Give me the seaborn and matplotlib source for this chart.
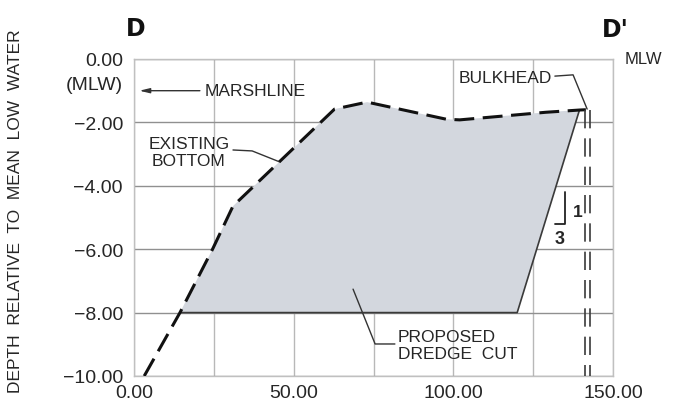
import numpy as np
import matplotlib
matplotlib.use("Agg")
import matplotlib.pyplot as plt
import seaborn as sns
import pandas as pd

# ---- data ----
existing_x = [3.2, 14.4, 24.6, 31.0, 62.8, 73.0, 97.8, 102.0, 129.0, 139.5, 141.5]
existing_y = [-10.0, -8.0, -6.0, -4.64, -1.58, -1.36, -1.90, -1.92, -1.68, -1.61, -1.60]
dredge_x = [14.4, 120.0, 139.5]
dredge_y = [-8.0, -8.0, -1.61]
bulkhead_x = [141.2, 142.8]
bulkhead_top = -1.60
bulkhead_bottom = -10.0
x_ticks = [0, 50, 100, 150]
x_tick_labels = ["0.00", "50.00", "100.00", "150.00"]
y_ticks = [0, -2, -4, -6, -8, -10]
y_tick_labels = ["0.00", "\u22122.00", "\u22124.00", "\u22126.00", "\u22128.00", "\u221210.00"]

sns.set_theme(style="white")
plt.rcParams['font.family'] = ['Liberation Sans', 'DejaVu Sans']
TXT = "#262626"

fig = plt.figure(figsize=(6.79, 4.14), dpi=100)
ax = fig.add_axes([134/679, 1-377/414, (613-134)/679, (377-60)/414])
ax.set_xlim(0, 150)
ax.set_ylim(-10, 0)

# grid
ax.set_xticks(x_ticks)
ax.set_xticks([25, 75, 125], minor=True)
ax.set_xticklabels(x_tick_labels)
ax.set_yticks(y_ticks)
ax.set_yticklabels(y_tick_labels)
ax.grid(True, axis="x", which="both", color="#b8b8b8", lw=1.0)
ax.grid(True, axis="y", which="major", color="#909090", lw=1.0)
ax.set_axisbelow(True)
for s in ax.spines.values():
    s.set_color("#c0c0c0")
    s.set_linewidth(1.0)
ax.tick_params(axis="both", which="both", length=0, labelsize=14, colors=TXT)
ax.tick_params(axis="y", pad=8)
ax.tick_params(axis="x", pad=6)

# fill polygon: existing bottom between dredge ends + dredge reversed
ex = np.array(existing_x); ey = np.array(existing_y)
mask = (ex >= dredge_x[0]) & (ex <= dredge_x[-1])
poly_x = list(ex[mask]) + dredge_x[::-1]
poly_y = list(ey[mask]) + dredge_y[::-1]
ax.fill(poly_x, poly_y, color="#d3d7de", zorder=1, lw=0)

# dredge cut lines
df_d = pd.DataFrame({"x": dredge_x, "y": dredge_y})
sns.lineplot(data=df_d, x="x", y="y", sort=False, estimator=None, ax=ax,
             color="#3a3a3a", lw=1.2, zorder=3)

# existing bottom (dashed)
df_e = pd.DataFrame({"x": existing_x, "y": existing_y})
sns.lineplot(data=df_e, x="x", y="y", sort=False, estimator=None, ax=ax,
             color="#111111", lw=2.2, zorder=4, linestyle=(0, (6.5, 2.8)))

# bulkhead (double dashed verticals)
for bx in bulkhead_x:
    dfb = pd.DataFrame({"x": [bx, bx], "y": [bulkhead_top, bulkhead_bottom]})
    sns.lineplot(data=dfb, x="x", y="y", sort=False, estimator=None, ax=ax,
                 color="#3a3a3a", lw=1.2, linestyle=(0, (11, 6)), zorder=4)

ax.set_xlabel("")
ax.set_ylabel("")

# annotations
ax.text(-3.5, -0.79, "(MLW)", ha="right", va="center", fontsize=14, color=TXT, clip_on=False)
ax.annotate("", xy=(0.8, -1.0), xytext=(21.5, -1.0),
            arrowprops=dict(arrowstyle="-|>,head_length=0.5,head_width=0.12", color="#333333", lw=1.0))
ax.text(22, -1.0, "MARSHLINE", ha="left", va="center", fontsize=12.5, color=TXT)

ax.text(17.2, -2.93, "EXISTING\nBOTTOM", ha="center", va="center", fontsize=12.5,
        color=TXT, linespacing=1.15)
ax.plot([31, 37, 45.7], [-2.87, -2.9, -3.25], color="#333333", lw=1.0)

ax.text(131, -0.57, "BULKHEAD", ha="right", va="center", fontsize=12.5, color=TXT)
ax.plot([131.8, 137.5, 141.9], [-0.54, -0.5, -1.58], color="#333333", lw=1.0)

ax.text(82.7, -9.02, "PROPOSED\nDREDGE  CUT", ha="left", va="center", fontsize=12.5,
        color=TXT, linespacing=1.15)
ax.plot([68.6, 75.5, 81.7], [-7.26, -8.99, -8.99], color="#333333", lw=1.0)

# slope indicator 3:1
ax.plot([131.9, 135.0, 135.0], [-5.2, -5.2, -4.2], color="#222222", lw=1.3)
ax.text(137.3, -4.8, "1", ha="left", va="center", fontsize=12.5, color=TXT, fontweight="bold")
ax.text(133.2, -5.65, "3", ha="center", va="center", fontsize=13, color=TXT, fontweight="bold")

# titles / side labels
fig.text(136/679, 1-29/414, "D", ha="center", va="center", fontsize=17,
         fontweight="heavy", family="DejaVu Sans", color="#111111")
fig.text(615/679, 1-30/414, "D'", ha="center", va="center", fontsize=17,
         fontweight="heavy", family="DejaVu Sans", color="#111111")
fig.text(643/679, 1-59/414, "MLW", ha="center", va="center", fontsize=12, color=TXT)
fig.text(16/679, 1-211/414, "DEPTH  RELATIVE  TO  MEAN  LOW  WATER", rotation=90,
         ha="center", va="center", fontsize=12.5, color=TXT)

fig.savefig("out.png", dpi=100)
